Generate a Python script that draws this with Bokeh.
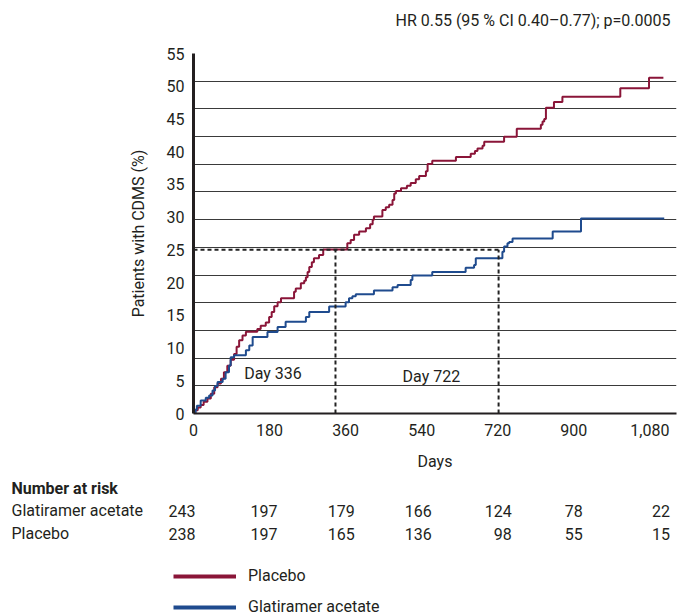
import numpy as np
from bokeh.plotting import figure
from bokeh.layouts import column
from bokeh.models import FixedTicker, Label, Legend, LegendItem, Range1d, ColumnDataSource
from bokeh.core.properties import value
from bokeh.embed import file_html
from bokeh.resources import INLINE

# ---------------- data ----------------
placebo_days = [0, 4, 10, 17, 24, 33, 41, 49, 57, 65, 72, 80, 88, 96, 102, 108, 116, 124,
                151, 159, 171, 179, 185, 191, 199, 207, 238, 242, 254, 262, 266, 270, 274,
                280, 285, 297, 307, 364, 372, 380, 392, 408, 418, 424, 427, 447, 455, 463,
                471, 475, 479, 491, 505, 514, 526, 534, 550, 554, 565, 621, 656, 666, 672,
                684, 688, 735, 765, 822, 826, 830, 834, 853, 873, 1010, 1078, 1112]
placebo_pct = [0, 0.5, 0.9, 1.3, 1.8, 2.3, 3.0, 4.0, 4.6, 5.3, 6.3, 7.3, 8.2, 9.1, 10.2, 11.2, 11.9, 12.5,
               12.9, 13.4, 13.9, 14.75, 15.5, 16.4, 17.0, 17.6, 18.6, 19.1, 19.9, 20.3, 20.8, 21.6, 22.4,
               23.1, 23.7, 24.2, 25.05, 26.0, 26.5, 27.3, 27.8, 28.3, 28.9, 29.6, 30.1, 31.1, 31.5, 31.9,
               32.6, 33.6, 34.0, 34.4, 34.8, 35.2, 35.8, 36.3, 37.0, 38.1, 38.6, 39.2, 39.7, 40.1, 40.5,
               40.9, 41.5, 42.3, 43.5, 44.1, 44.6, 45.0, 46.7, 47.6, 48.4, 49.7, 51.3, 51.3]

ga_days = [0, 5, 8, 17, 29, 37, 45, 51, 57, 69, 76, 84, 88, 96, 124, 132, 140, 175, 199, 218,
           266, 274, 321, 360, 368, 376, 384, 427, 471, 483, 514, 518, 565, 644, 664, 668, 731,
           735, 743, 747, 755, 850, 917, 1114]
ga_pct = [0, 0.6, 1.2, 2.0, 2.4, 2.75, 3.5, 4.2, 4.8, 5.3, 6.3, 7.35, 8.6, 8.9, 9.65, 10.4, 11.7, 12.45,
          13.2, 14.0, 14.75, 15.5, 16.35, 17.0, 17.6, 17.9, 18.2, 18.8, 19.3, 19.65, 20.4, 21.1, 21.6,
          22.25, 22.7, 23.7, 24.7, 25.5, 26.0, 26.2, 26.75, 27.8, 29.8, 29.8]

x_ticks = [0, 180, 360, 540, 720, 900, 1080]
x_tick_labels = ["0", "180", "360", "540", "720", "900", "1,080"]
y_ticks = [0, 5, 10, 15, 20, 25, 30, 35, 40, 45, 50, 55]

risk_days = [0, 180, 360, 540, 720, 900, 1080]
risk_ga = [243, 197, 179, 166, 124, 78, 22]
risk_placebo = [238, 197, 165, 136, 98, 55, 15]
risk_rows = ["Glatiramer acetate", "Placebo"]

median_days = [336, 722]
median_labels = ["Day 336", "Day 722"]
median_pct = 25

hr_text = "HR 0.55 (95 % CI 0.40\u20130.77); p=0.0005"

# ---------------- style / layout ----------------
FONT = "Roboto"
RED = "#8a1538"
BLUE = "#1f4b8e"
TXT = "#231f20"
FS = "16px"
W = 678
LEFT = 193          # frame left edge (px)
RIGHT_PAD = 2
X_END = 1143        # day at the right edge of the frame
FRAME_W = W - LEFT - RIGHT_PAD
K = FRAME_W / X_END  # px per day
X_START_FULL = -LEFT / K
X_END_FULL = (W - LEFT) / K


def blank(height):
    f = figure(width=W, height=height, output_backend="svg", toolbar_location=None,
               x_range=Range1d(X_START_FULL, X_END_FULL), y_range=Range1d(height, 0),
               x_axis_type=None, y_axis_type=None, frame_align=False,
               min_border_left=0, min_border_right=0, min_border_top=0, min_border_bottom=0)
    f.outline_line_color = None
    f.grid.visible = False
    return f


# ---------------- header (HR text) ----------------
HEAD_H = 38
head = blank(HEAD_H)
head.text(x=[(670 - LEFT) / K], y=[20], text=[hr_text], text_align="right",
          text_baseline="middle", text_font=value(FONT), text_font_size=FS, text_color=TXT)

# ---------------- main plot ----------------
MAIN_H = 475 - HEAD_H
TOP_B = 53 - HEAD_H
p = figure(width=W, height=MAIN_H, output_backend="svg", toolbar_location=None,
           x_range=Range1d(0, X_END), y_range=Range1d(0, 55), frame_align=False,
           min_border_left=LEFT, min_border_right=RIGHT_PAD, min_border_top=TOP_B,
           min_border_bottom=MAIN_H - TOP_B - 360)
p.outline_line_color = None

p.xaxis.ticker = FixedTicker(ticks=x_ticks)
p.xaxis.major_label_overrides = {t: l for t, l in zip(x_ticks, x_tick_labels)}
p.xaxis.axis_label = "Days"
p.yaxis.ticker = FixedTicker(ticks=y_ticks)
p.yaxis.axis_label = "Patients with CDMS (%)"
for ax in (p.xaxis, p.yaxis):
    ax.major_tick_line_color = None
    ax.minor_tick_line_color = None
    ax.major_tick_out = 0
    ax.major_tick_in = 0
    ax.axis_line_color = TXT
    ax.major_label_text_font = FONT
    ax.major_label_text_font_size = FS
    ax.major_label_text_color = TXT
    ax.axis_label_text_font = FONT
    ax.axis_label_text_font_size = FS
    ax.axis_label_text_font_style = "normal"
    ax.axis_label_text_color = TXT
p.xaxis.axis_line_width = 2
p.yaxis.axis_line_width = 3
p.xaxis.major_label_standoff = 10
p.xaxis.axis_label_standoff = 13
p.yaxis.major_label_standoff = 9
p.yaxis.axis_label_standoff = 16

# the reference's grid is 13 equal bands over the axis height
p.xgrid.visible = False
p.ygrid.ticker = FixedTicker(ticks=list(np.linspace(0, 55, 14)[1:]))
p.ygrid.grid_line_color = "#3a3a3a"
p.ygrid.grid_line_width = 1

r_pl = p.step(placebo_days, placebo_pct, mode="after", line_color=RED, line_width=2)
r_ga = p.step(ga_days, ga_pct, mode="after", line_color=BLUE, line_width=2)

p.segment(x0=median_days, y0=[0] * len(median_days), x1=median_days,
          y1=[median_pct] * len(median_days), line_color="#222222", line_width=2, line_dash="4 3")
p.segment(x0=[0], y0=[median_pct], x1=[max(median_days)], y1=[median_pct],
          line_color="#222222", line_width=2, line_dash="4 3")

label_pos = [(188, 6.07), (563, 5.65)]
for (lx, ly), txt in zip(label_pos, median_labels):
    p.add_layout(Label(x=lx, y=ly, text=txt, text_align="center", text_baseline="middle",
                       text_font=FONT, text_font_size=FS, text_color=TXT))

# ---------------- number at risk + legend ----------------
TOP = HEAD_H + MAIN_H
TAB_H = 616 - TOP
tab = blank(TAB_H)
row_label_x = (11 - LEFT) / K
tab.text(x=[row_label_x], y=[488 - TOP], text=["Number at risk"], text_baseline="middle",
         text_font=value(FONT), text_font_size=FS, text_font_style="bold", text_color=TXT)
row_mid = [510 - TOP, 533 - TOP]
tab.text(x=[row_label_x] * 2, y=row_mid, text=risk_rows, text_baseline="middle",
         text_font=value(FONT), text_font_size=FS, text_color=TXT)
col_offsets = [2, 8, 9, 10, 14, 9, 20]
src = ColumnDataSource(dict(
    x=risk_days * 2,
    y=[row_mid[0]] * len(risk_days) + [row_mid[1]] * len(risk_days),
    t=[str(v) for v in risk_ga] + [str(v) for v in risk_placebo],
    off=col_offsets * 2))
tab.text(x="x", y="y", text="t", x_offset="off", source=src, text_align="right",
         text_baseline="middle", text_font=value(FONT), text_font_size=FS, text_color=TXT)

# legend swatches: hidden copies of the curves, drawn thick in the legend only
leg_pl = tab.step(placebo_days, placebo_pct, mode="after", line_color=RED, line_width=4, visible=False)
leg_ga = tab.step(ga_days, ga_pct, mode="after", line_color=BLUE, line_width=4, visible=False)
legend = Legend(items=[LegendItem(label="Placebo", renderers=[leg_pl]),
                       LegendItem(label="Glatiramer acetate", renderers=[leg_ga])],
                location=(173, 0), glyph_width=63, glyph_height=16, label_height=16,
                spacing=12, padding=0, margin=0, label_standoff=12,
                inactive_fill_alpha=0, border_line_color=None, background_fill_alpha=0,
                label_text_font=FONT, label_text_font_size=FS, label_text_color=TXT)
tab.add_layout(legend)

layout = column(head, p, tab, spacing=0)
open("out.html", "w").write(file_html(layout, INLINE))
